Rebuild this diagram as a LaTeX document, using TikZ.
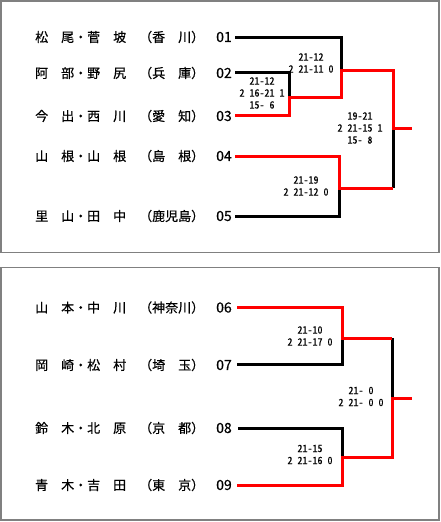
\documentclass[tikz,border=0pt]{standalone}
\usepackage{fontspec}
\setmainfont{Noto Sans CJK JP}[FakeBold=0.5]
\newfontfamily\scorefont[RawFeature=+hwid,FakeBold=0.4]{Noto Sans CJK JP}
\begin{document}
\begin{tikzpicture}[x=1pt,y=-1pt,
  panel/.style={draw=gray, line width=1.5pt},
  teamtxt/.style={anchor=west, inner sep=0pt, font=\fontsize{13}{13}\selectfont},
  seedtxt/.style={anchor=west, inner sep=0pt, font=\fontsize{14}{14}\selectfont},
  scoretxt/.style={align=center, inner sep=0pt, font=\scorefont\fontsize{10}{12}\selectfont},
  loseline/.style={line width=3pt, black, line join=miter},
  winline/.style={line width=3pt, red, line join=miter},
]
\useasboundingbox (0,0) rectangle (441,522);
\fill[white] (0,0) rectangle (441,522);
% panels
\draw[panel] (1,1) rectangle (439.2,252.5);
\draw[panel] (1,267.5) rectangle (439.2,519.8);

% ---------- top panel ----------
\node[teamtxt] (t1) at (35,37) {松　尾・菅　坡　（香　川）};
\node[teamtxt] (t2) at (35,73) {阿　部・野　尻　（兵　庫）};
\node[teamtxt] (t3) at (35,116) {今　出・西　川　（愛　知）};
\node[teamtxt] (t4) at (35,156) {山　根・山　根　（島　根）};
\node[teamtxt] (t5) at (35,216) {里　山・田　中　（鹿児島）};
\node[seedtxt] (n1) at (216,37) {01};
\node[seedtxt] (n2) at (216,73) {02};
\node[seedtxt] (n3) at (216,116) {03};
\node[seedtxt] (n4) at (216,156) {04};
\node[seedtxt] (n5) at (216,216) {05};

\coordinate (s1) at (235,37);
\coordinate (s2) at (235,72);
\coordinate (s3) at (235,115);
\coordinate (s4) at (235,156);
\coordinate (s5) at (235,216);
\coordinate (jA) at (289,97);
\coordinate (jB) at (341.5,70);
\coordinate (jC) at (339,188);
\coordinate (jF) at (393,128);
\coordinate (o1) at (412,128);

\draw[loseline] (s2) -- (s2 -| jA) -- (jA);
\draw[loseline] (s1) -- (s1 -| jB) -- (jB);
\draw[loseline] (s5) -- (s5 -| jC) -- (jC);
\draw[loseline] (jF) -- (jF |- jC);
\draw[winline] (s3) -- (s3 -| jA) -- (jA) -- (jA -| jB) -- (jB) -- (jB -| jF) -- (jF) -- (o1);
\draw[winline] (s4) -- (s4 -| jC) -- (jC) -- (jC -| jF);

\node[scoretxt] (sA) at (262,93) {21-12\\2 16-21 1\\15-\hphantom{0}6};
\node[scoretxt] (sB) at (311,63) {21-12\\2 21-11 0};
\node[scoretxt] (sF) at (360,128) {19-21\\2 21-15 1\\15-\hphantom{0}8};
\node[scoretxt] (sC) at (306,186) {21-19\\2 21-12 0};

% ---------- bottom panel ----------
\node[teamtxt] (t6) at (35,307.5) {山　本・中　川　（神奈川）};
\node[teamtxt] (t7) at (35,365) {岡　崎・松　村　（埼　玉）};
\node[teamtxt] (t8) at (35,428) {鈴　木・北　原　（京　都）};
\node[teamtxt] (t9) at (35,485) {青　木・吉　田　（東　京）};
\node[seedtxt] (n6) at (216,307.5) {06};
\node[seedtxt] (n7) at (216,365) {07};
\node[seedtxt] (n8) at (216,428) {08};
\node[seedtxt] (n9) at (216,485) {09};

\coordinate (s6) at (237,307.5);
\coordinate (s7) at (237,364);
\coordinate (s8) at (238,428);
\coordinate (s9) at (237,485);
\coordinate (jD) at (342,338);
\coordinate (jE) at (342,457);
\coordinate (jG) at (392,398);
\coordinate (o2) at (412,398);

\draw[loseline] (s7) -- (s7 -| jD) -- (jD);
\draw[loseline] (s8) -- (s8 -| jE) -- (jE);
\draw[loseline] (jG |- jD) -- (jG);
\draw[winline] (s6) -- (s6 -| jD) -- (jD) -- (jD -| jG);
\draw[winline] (s9) -- (s9 -| jE) -- (jE) -- (jE -| jG) -- (jG) -- (o2);

\node[scoretxt] (sD) at (310,336) {21-10\\2 21-17 0};
\node[scoretxt] (sG) at (361,396.5) {21-\hphantom{0}0\\2 21-\hphantom{0}0 0};
\node[scoretxt] (sE) at (310,454.5) {21-15\\2 21-16 0};
\end{tikzpicture}
\end{document}
